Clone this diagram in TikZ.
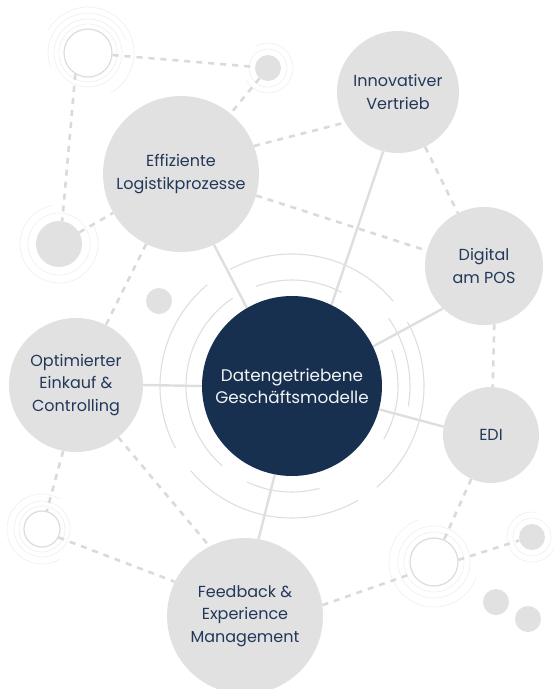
\documentclass[tikz,border=0pt]{standalone}
\usepackage{fontspec}
\setmainfont{Poppins}
\usetikzlibrary{backgrounds}

\definecolor{bubble}{HTML}{E1E1E1}
\definecolor{navy}{HTML}{17304F}
\definecolor{inktext}{HTML}{22385A}
\definecolor{linkgray}{HTML}{DEDEDE}
\definecolor{dashgray}{HTML}{DADADA}
\definecolor{ringgray}{HTML}{DCDCDC}
\definecolor{faintring}{HTML}{F0F0F0}

\tikzset{
  bigc/.style={circle, fill=bubble, inner sep=-8pt, text=inktext, align=center,
    font=\fontsize{16}{22.5}\selectfont},
  hub/.style={circle, fill=navy, inner sep=-8pt, text=white!94!navy, align=center,
    font=\fontsize{16.8}{22.5}\selectfont},
  dotc/.style={circle, fill=bubble, inner sep=0pt},
  ringc/.style={circle, draw=ringgray, line width=1.2pt, fill=white, inner sep=0pt},
  faint/.style={draw=faintring, line width=0.7pt},
  link/.style={draw=linkgray, line width=2.4pt},
  dashlink/.style={draw=dashgray, line width=2.6pt, dash pattern=on 6pt off 6pt},
  orbit/.style={draw=linkgray, line width=1.1pt},
}

\begin{document}
\begin{tikzpicture}[x=1pt, y=-1pt]
\useasboundingbox (0,0) rectangle (554,689);

% main topics
\node[hub, minimum size=180pt] (hubc) at (292,386) {Datengetriebene\\Geschäftsmodelle};
\node[bigc, minimum size=156pt] (eff) at (181,174) {Effiziente\\Logistikprozesse};
\node[bigc, minimum size=122pt] (inn) at (398,92) {Innovativer\\Vertrieb};
\node[bigc, minimum size=118pt] (dig) at (484,266) {Digital\\am POS};
\node[bigc, minimum size=134pt] (opt) at (76,385) {Optimierter\\Einkauf \&\\Controlling};
\node[bigc, minimum size=96pt] (edi) at (491,435) {EDI};
\node[bigc, minimum size=156pt] (feed) at (245,616) {Feedback \&\\Experience\\Management};

% decorative rings and dots
\node[ringc, minimum size=48pt] (rtl) at (88,53) {};
\node[ringc, minimum size=36pt] (rbl) at (42,529) {};
\node[ringc, minimum size=48pt] (rbr) at (434,562) {};
\node[dotc, minimum size=26pt] (d1) at (268,68) {};
\node[dotc, minimum size=46pt] (d2) at (59,244) {};
\node[dotc, minimum size=26pt] (d3) at (159,301) {};
\node[dotc, minimum size=26pt] (d4) at (532,537) {};
\node[dotc, minimum size=26pt] (d5) at (496,602) {};
\node[dotc, minimum size=26pt] (d6) at (528,619) {};

\begin{pgfonlayer}{background}
  % faint halos around the small markers
  \begin{scope}[shift={(88,53)}, x=1pt, y=1pt]
    \draw[faint] (0,0) circle[radius=29pt];
    \draw[faint] (0,0) circle[radius=34pt];
    \draw[faint] (200:40pt) arc[start angle=200, end angle=20, radius=40pt];
    \draw[faint] (150:46pt) arc[start angle=150, end angle=-60, radius=46pt];
  \end{scope}
  \begin{scope}[shift={(268,68)}, x=1pt, y=1pt]
    \draw[faint] (0,0) circle[radius=19pt];
    \draw[faint] (120:25pt) arc[start angle=120, end angle=-150, radius=25pt];
  \end{scope}
  \begin{scope}[shift={(59,244)}, x=1pt, y=1pt]
    \draw[faint] (0,0) circle[radius=31pt];
    \draw[faint] (100:39pt) arc[start angle=100, end angle=390, radius=39pt];
  \end{scope}
  \begin{scope}[shift={(42,529)}, x=1pt, y=1pt]
    \draw[faint] (0,0) circle[radius=23pt];
    \draw[faint] (0,0) circle[radius=28pt];
    \draw[faint] (60:35pt) arc[start angle=60, end angle=300, radius=35pt];
  \end{scope}
  \begin{scope}[shift={(434,562)}, x=1pt, y=1pt]
    \draw[faint] (0,0) circle[radius=30pt];
    \draw[faint] (0,0) circle[radius=36pt];
    \draw[faint] (110:45pt) arc[start angle=110, end angle=340, radius=45pt];
  \end{scope}
  \begin{scope}[shift={(532,537)}, x=1pt, y=1pt]
    \draw[faint] (0,0) circle[radius=19pt];
    \draw[faint] (80:25pt) arc[start angle=80, end angle=330, radius=25pt];
  \end{scope}

  % orbits around the hub
  \begin{scope}[shift={(292,386)}, x=1pt, y=1pt]
    \draw[orbit] (40:132pt) arc[start angle=40, end angle=118, radius=132pt];
    \draw[orbit] (130:132pt) arc[start angle=130, end angle=208, radius=132pt];
    \draw[orbit] (220:132pt) arc[start angle=220, end angle=300, radius=132pt];
    \draw[orbit] (310:132pt) arc[start angle=310, end angle=389, radius=132pt];
    \draw[orbit] (62:106pt) arc[start angle=62, end angle=110, radius=106pt];
    \draw[orbit] (124:106pt) arc[start angle=124, end angle=229, radius=106pt];
    \draw[orbit] (245:106pt) arc[start angle=245, end angle=285, radius=106pt];
    \draw[orbit] (330:106pt) arc[start angle=330, end angle=380, radius=106pt];
    \draw[orbit] (-10:118pt) arc[start angle=-10, end angle=35, radius=118pt];
  \end{scope}

  % dashed cross links
  \draw[dashlink] (rtl) -- (d1);
  \draw[dashlink] (d1) -- (eff);
  \draw[dashlink] (rtl.239) -- (d2.82);
  \draw[dashlink] (d2) -- (eff);
  \draw[dashlink] (eff) -- (opt);
  \draw[dashlink] (eff.21) -- (inn.210);
  \draw[dashlink] (eff.-16) -- (dig.165);
  \draw[dashlink] (inn) -- (dig);
  \draw[dashlink] (dig.-80) -- (edi.88);
  \draw[dashlink] (edi) -- (rbr);
  \draw[dashlink] (rbr.5) -- (d4.195);
  \draw[dashlink] (feed.8) -- (rbr.208);
  \draw[dashlink] (opt.259) -- (rbl.75);
  \draw[dashlink] (rbl.-27) -- (feed.154);
  \draw[dashlink] (opt.-51) -- (feed.117);

  % solid links from the hub
  \draw[link] (hubc.120) -- (eff.-65);
  \draw[link] (hubc.64) -- (inn.256);
  \draw[link] (hubc.26) -- (dig.226);
  \draw[link] (hubc.180) -- (opt.0);
  \draw[link] (hubc.-15) -- (edi.170);
  \draw[link] (hubc.259) -- (feed.80);
\end{pgfonlayer}
\end{tikzpicture}
\end{document}
